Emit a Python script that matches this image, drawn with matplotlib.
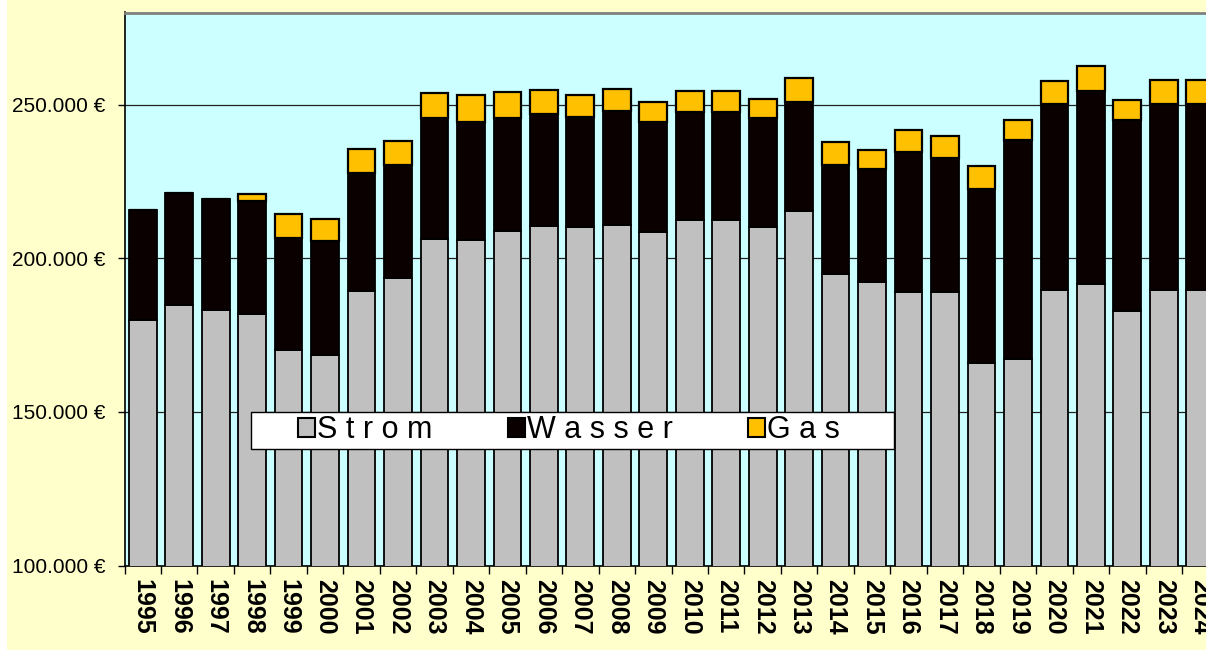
import matplotlib.pyplot as plt
import numpy as np
from matplotlib.patches import Rectangle, Patch
from matplotlib.ticker import FuncFormatter

plt.rcParams['font.family'] = ['Liberation Sans', 'DejaVu Sans']

# Daten (Euro je Jahr)
jahre = [str(j) for j in range(1995, 2025)]
strom = [180000, 184900, 183300, 181900, 170000, 168500, 189400, 193700, 206300, 205800,
         208900, 210400, 210100, 210900, 208700, 212300, 212300, 210200, 215400, 194800,
         192200, 189000, 188900, 165900, 167200, 189800, 191500, 183000, 189600, 189600]
wasser = [35800, 36500, 35900, 36800, 36700, 37000, 38400, 36700, 39300, 38700,
          36600, 36700, 36000, 37000, 35500, 35200, 35200, 35500, 35500, 35400,
          36700, 45700, 43900, 56700, 71200, 60500, 62900, 61900, 60600, 60600]
gas = [0, 0, 0, 2100, 7600, 7300, 7800, 7900, 8200, 8600,
       8600, 7800, 7100, 7200, 6700, 7100, 7100, 6200, 7800, 7800,
       6400, 7100, 6900, 7300, 6600, 7300, 8200, 6600, 7700, 7700]
legende = ["S t r o m", "W a s s e r", "G a s"]
farben = ["#C0C0C0", "#0A0000", "#FFC000"]
y_ticks = [100000, 150000, 200000, 250000]

W, H = 1206, 650
fig = plt.figure(figsize=(W / 100, H / 100), dpi=100, facecolor="#FFFFCC")
# weisser Rand links
fig.patches.append(Rectangle((0, 0), 7 / W, 1, transform=fig.transFigure,
                             facecolor="white", edgecolor="none", zorder=-1))

ax = fig.add_axes([124.5 / W, 1 - 565.5 / H, 1094 / W, 553 / H])
ax.set_facecolor("#CCFFFF")

x = np.arange(len(jahre))
s = np.array(strom)
w = np.array(wasser)
g = np.array(gas)
breite = 0.76
ax.bar(x, s, breite, color=farben[0], edgecolor="black", linewidth=1.3, zorder=3)
ax.bar(x, w, breite, bottom=s, color=farben[1], edgecolor="black", linewidth=1.3, zorder=3)
ax.bar(x, g, breite, bottom=s + w, color=farben[2], edgecolor="black", linewidth=1.6, zorder=3)

ax.set_xlim(-0.5, len(jahre) - 0.5)
ax.set_ylim(100000, 280000)

ax.set_yticks(y_ticks)
ax.yaxis.set_major_formatter(FuncFormatter(lambda v, p: f"{int(v):,} €".replace(",", ".")))
ax.tick_params(axis="y", direction="out", length=5, width=1, pad=9, labelsize=15)
ax.grid(axis="y", color="#202020", linewidth=0.9, zorder=0)

ax.set_xticks(x)
ax.set_xticklabels(jahre, rotation=-90, fontweight="bold", fontsize=18)
ax.tick_params(axis="x", which="major", length=0, pad=10)
ax.set_xticks(np.arange(len(jahre) + 1) - 0.5, minor=True)
ax.tick_params(axis="x", which="minor", direction="out", length=6, width=1)
for lab in ax.get_xticklabels():
    lab.set_va("top")
    lab.set_ha("center")

ax.spines["top"].set_color("#808080")
ax.spines["top"].set_linewidth(2)
ax.spines["left"].set_linewidth(1.2)
ax.spines["bottom"].set_linewidth(1.2)
ax.spines["right"].set_visible(False)

# Legende
fig.patches.append(Rectangle((251 / W, 1 - 449 / H), 643 / W, 37.3 / H, transform=fig.transFigure,
                             facecolor="white", edgecolor="black", linewidth=1, zorder=4))
griffe = [Patch(facecolor=f, edgecolor="black", linewidth=1.5) for f in farben]
fig.legend(griffe, legende, loc="center", ncol=3, frameon=False,
           bbox_to_anchor=(569 / W, 1 - 430.4 / H), fontsize=22,
           handlelength=0.56, handleheight=0.56, handletextpad=0.07, columnspacing=2.45,
           borderpad=0)

fig.savefig("out.png", dpi=100, facecolor=fig.get_facecolor())
